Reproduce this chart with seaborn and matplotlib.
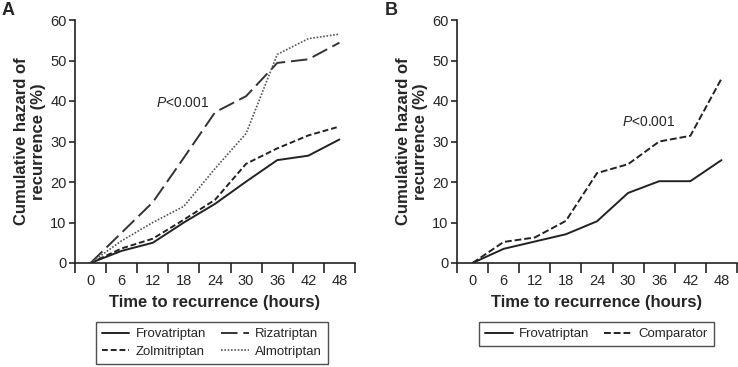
import numpy as np
import pandas as pd
import matplotlib
matplotlib.use("Agg")
import matplotlib.pyplot as plt
import seaborn as sns

# hours since treatment
hours = [0, 6, 12, 18, 24, 30, 36, 42, 48]

# panel A - cumulative hazard (%)
frova_a = [0, 3.0, 5.0, 10.0, 14.6, 20.1, 25.4, 26.5, 30.5]
riza_a = [0, 7.5, 15.0, 26.0, 37.2, 41.2, 49.4, 50.3, 54.4]
zolmi_a = [0, 3.6, 6.0, 10.7, 15.6, 24.5, 28.3, 31.5, 33.7]
almo_a = [0, 5.5, 10.0, 14.0, 23.3, 32.0, 51.5, 55.4, 56.5]

# panel B - cumulative hazard (%)
frova_b = [0, 3.5, 5.3, 7.1, 10.3, 17.3, 20.2, 20.2, 25.4]
comp_b = [0, 5.2, 6.3, 10.4, 22.2, 24.4, 30.0, 31.4, 45.5]

sns.set_theme(style="ticks")
plt.rcParams["font.family"] = ["Liberation Sans", "DejaVu Sans"]
plt.rcParams["mathtext.fontset"] = "custom"
plt.rcParams["mathtext.rm"] = "Liberation Sans"
plt.rcParams["mathtext.it"] = "Liberation Sans:italic"

fig = plt.figure(figsize=(7.38, 3.67), dpi=100)
ax_a = fig.add_axes([75 / 738, 1 - 263 / 367, 280 / 738, 243 / 367])
ax_b = fig.add_axes([457 / 738, 1 - 263 / 367, 280 / 738, 243 / 367])

styles_a = [
    ("Frovatriptan", frova_a, (None, None), "#222222", 1.4),
    ("Zolmitriptan", zolmi_a, (3, 1.5), "#222222", 1.4),
    ("Rizatriptan", riza_a, (8.5, 3), "#333333", 1.4),
    ("Almotriptan", almo_a, (1, 1), "#555555", 1.2),
]
styles_b = [
    ("Frovatriptan", frova_b, (None, None), "#222222", 1.4),
    ("Comparator", comp_b, (3.5, 1.5), "#222222", 1.4),
]


def draw_panel(ax, series, leg_anchor, ncol):
    for name, vals, dash, col, lw in series:
        df = pd.DataFrame({"hours": hours, "hazard": vals})
        sns.lineplot(data=df, x="hours", y="hazard", ax=ax, color=col,
                     linewidth=lw, label=name)
        ln = ax.get_lines()[-1]
        if dash[0] is not None:
            ln.set_dashes(dash)
    ax.set_xlim(-3, 51)
    ax.set_ylim(0, 60)
    ax.set_xticks(np.arange(-3, 52, 6))
    ax.set_xticklabels([])
    ax.set_xticks(hours, minor=True)
    ax.set_xticklabels([str(h) for h in hours], minor=True, fontsize=10.5)
    ax.tick_params(axis="x", which="major", length=7, width=1.2, direction="out")
    ax.tick_params(axis="x", which="minor", length=0, pad=8)
    ax.set_yticks(range(0, 61, 10))
    ax.tick_params(axis="y", length=4, width=1.2, labelsize=10.5, pad=2)
    for s in ["top", "right"]:
        ax.spines[s].set_visible(False)
    for s in ["left", "bottom"]:
        ax.spines[s].set_linewidth(1.2)
        ax.spines[s].set_color("#222222")
    ax.set_xlabel("Time to recurrence (hours)", fontsize=12, fontweight="bold",
                  labelpad=5)
    ax.set_ylabel("Cumulative hazard of\nrecurrence (%)", fontsize=12,
                  fontweight="bold", labelpad=3)
    leg = ax.legend(loc="upper center", bbox_to_anchor=leg_anchor, ncol=ncol,
                    frameon=True, fancybox=False, fontsize=9.5,
                    handlelength=2.1, columnspacing=1.1, handletextpad=0.5,
                    borderpad=0.45, labelspacing=0.4, borderaxespad=0)
    leg.get_frame().set_edgecolor("#222222")
    leg.get_frame().set_linewidth(1.0)


draw_panel(ax_a, styles_a, (0.489, -0.243), 2)
draw_panel(ax_b, styles_b, (0.498, -0.243), 2)

ax_a.text(12.6, 39.5, r"$P$<0.001", fontsize=10, va="center", ha="left")
ax_b.text(28.8, 34.8, r"$P$<0.001", fontsize=10, va="center", ha="left")

fig.text(2 / 738, 1 - 2 / 367, "A", fontsize=13, fontweight="bold", va="top")
fig.text(385 / 738, 1 - 2 / 367, "B", fontsize=13, fontweight="bold", va="top")

fig.savefig("out.png", dpi=100)
